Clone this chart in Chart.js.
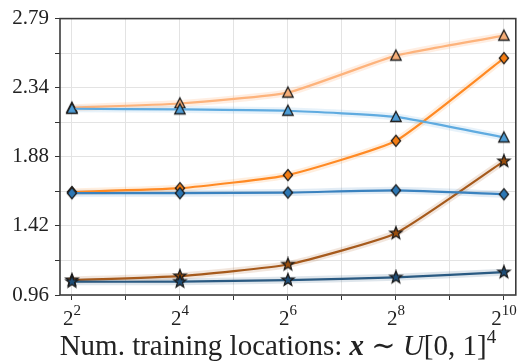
<!DOCTYPE html>
<html>
<head>
<meta charset="utf-8">
<script src="https://cdn.jsdelivr.net/npm/chart.js@4"></script>
<style>
  html, body { margin: 0; padding: 0; background: #fff; }
  #wrap { width: 522px; height: 361px; }
</style>
</head>
<body>
<div id="wrap"><canvas id="chart" width="522" height="361"></canvas></div>
<script>
// training locations (powers of two)
const xValues = [4, 16, 64, 256, 1024];
const xExponents = [2, 3, 4, 5, 6, 7, 8, 9, 10];

// series
const blueTriangle = [2.193, 2.189, 2.180, 2.139, 2.003];
const blueDiamond = [1.634, 1.634, 1.638, 1.653, 1.627];
const blueStar = [1.048, 1.048, 1.059, 1.077, 1.111];
const orangeTriangle = [2.200, 2.228, 2.300, 2.545, 2.677];
const orangeDiamond = [1.642, 1.667, 1.754, 1.981, 2.528];
const orangeStar = [1.059, 1.085, 1.162, 1.369, 1.846];

// y axis
const yMin = 0.96;
const yMax = 2.79;
const yTickLabels = ['0.96', '1.42', '1.88', '2.34', '2.79'];

const serif = '"Liberation Serif", "DejaVu Serif", serif';

// marker images with a dark edge, like the matplotlib ones
function makeMarker(shape, fill) {
    const c = document.createElement('canvas');
    c.width = 16;
    c.height = 16;
    const g = c.getContext('2d');
    g.translate(8, 8);
    g.beginPath();
    if (shape === 'triangle') {
        g.moveTo(0, -5.5);
        g.lineTo(5.2, 4.5);
        g.lineTo(-5.2, 4.5);
    } else if (shape === 'diamond') {
        g.moveTo(0, -5.6);
        g.lineTo(4.6, 0);
        g.lineTo(0, 5.6);
        g.lineTo(-4.6, 0);
    } else {
        for (let i = 0; i < 10; i++) {
            const r = i % 2 === 0 ? 6.4 : 2.7;
            const a = -Math.PI / 2 + i * Math.PI / 5;
            if (i === 0) g.moveTo(r * Math.cos(a), r * Math.sin(a));
            else g.lineTo(r * Math.cos(a), r * Math.sin(a));
        }
    }
    g.closePath();
    g.fillStyle = fill;
    g.fill();
    g.lineWidth = 1.3;
    g.strokeStyle = '#1a1a1a';
    g.stroke();
    return c;
}

const series = [
    { data: blueStar, line: '#2a5a82', fill: '#1f4e78', band: 'rgba(42,90,130,0.15)', shape: 'star' },
    { data: blueDiamond, line: '#3a82bf', fill: '#2d77b4', band: 'rgba(58,130,191,0.15)', shape: 'diamond' },
    { data: blueTriangle, line: '#5fabe0', fill: '#4e9dd6', band: 'rgba(95,171,224,0.15)', shape: 'triangle' },
    { data: orangeStar, line: '#a65a1c', fill: '#9a4e0d', band: 'rgba(166,90,28,0.15)', shape: 'star' },
    { data: orangeDiamond, line: '#ff8a24', fill: '#f47d14', band: 'rgba(255,138,36,0.15)', shape: 'diamond' },
    { data: orangeTriangle, line: '#fdb37c', fill: '#f6ae78', band: 'rgba(253,179,124,0.22)', shape: 'triangle' }
];

const datasets = [];
series.forEach((s, i) => {
    const pts = xValues.map((x, k) => ({ x: x, y: s.data[k] }));
    datasets.push({
        data: pts,
        borderColor: s.line,
        borderWidth: 2.2,
        tension: 0.15,
        pointStyle: makeMarker(s.shape, s.fill),
        order: i + 1
    });
    // soft band behind each line
    datasets.push({
        data: pts,
        borderColor: s.band,
        borderWidth: 7,
        tension: 0.15,
        pointRadius: 0,
        order: 20 + i
    });
});

// frame round the plot area
const framePlugin = {
    id: 'frame',
    afterDraw(chart) {
        const a = chart.chartArea;
        const ctx = chart.ctx;
        ctx.save();
        ctx.strokeStyle = '#3c3c3c';
        ctx.lineWidth = 1.6;
        ctx.strokeRect(a.left, a.top, a.right - a.left, a.bottom - a.top);
        ctx.restore();
    }
};

// x tick labels 2^n with real superscripts, and the axis title
const xTextPlugin = {
    id: 'xText',
    afterDraw(chart) {
        const ctx = chart.ctx;
        const xs = chart.scales.x;
        ctx.save();
        ctx.fillStyle = '#222';
        ctx.textBaseline = 'alphabetic';
        xExponents.forEach(e => {
            if (e % 2 !== 0) return;
            const px = xs.getPixelForValue(Math.pow(2, e));
            ctx.font = '21px ' + serif;
            const wb = ctx.measureText('2').width;
            ctx.font = '15px ' + serif;
            const we = ctx.measureText(String(e)).width;
            const left = px - (wb + we) / 2;
            ctx.font = '21px ' + serif;
            ctx.fillText('2', left, 325);
            ctx.font = '15px ' + serif;
            ctx.fillText(String(e), left + wb, 315);
        });

        const parts = [
            { t: 'Num. training locations: ', f: '29px ' + serif, dy: 0 },
            { t: 'x', f: 'italic bold 29px ' + serif, dy: 0 },
            { t: ' \u223C ', f: '29px ' + serif, dy: 0 },
            { t: 'U', f: 'italic 29px ' + serif, dy: 0 },
            { t: '[0, 1]', f: '29px ' + serif, dy: 0 },
            { t: '4', f: '19px ' + serif, dy: -12 }
        ];
        let total = 0;
        parts.forEach(p => {
            ctx.font = p.f;
            p.w = ctx.measureText(p.t).width;
            total += p.w;
        });
        const a = chart.chartArea;
        let x = (a.left + a.right) / 2 - 10 - total / 2;
        parts.forEach(p => {
            ctx.font = p.f;
            ctx.fillText(p.t, x, 355 + p.dy);
            x += p.w;
        });
        ctx.restore();
    }
};

new Chart(document.getElementById('chart').getContext('2d'), {
    type: 'line',
    data: { datasets: datasets },
    options: {
        responsive: false,
        animation: false,
        events: [],
        layout: { padding: { top: 16, right: 1, left: 0, bottom: 0 } },
        plugins: {
            legend: { display: false },
            tooltip: { enabled: false }
        },
        scales: {
            x: {
                type: 'logarithmic',
                min: Math.pow(2, 1.78),
                max: Math.pow(2, 10.22),
                afterBuildTicks: scale => {
                    scale.ticks = xExponents.map(e => ({ value: Math.pow(2, e) }));
                },
                afterFit: scale => { scale.height = 66; },
                ticks: { display: false },
                border: { display: false },
                grid: {
                    color: '#e3e3e3',
                    lineWidth: 1,
                    tickColor: '#333',
                    tickLength: 5
                }
            },
            y: {
                type: 'linear',
                min: yMin,
                max: yMax,
                afterBuildTicks: scale => {
                    const step = (yMax - yMin) / 8;
                    const t = [];
                    for (let i = 0; i <= 8; i++) t.push({ value: yMin + i * step });
                    scale.ticks = t;
                },
                afterFit: scale => { scale.width = 60; },
                border: { display: false },
                grid: {
                    color: '#e3e3e3',
                    lineWidth: 1,
                    tickColor: '#333',
                    tickLength: 5
                },
                ticks: {
                    padding: 6,
                    color: '#222',
                    font: { family: serif, size: 21 },
                    callback: (v, i) => (i % 2 === 0 ? yTickLabels[i / 2] : '')
                }
            }
        }
    },
    plugins: [framePlugin, xTextPlugin]
});
</script>
</body>
</html>
